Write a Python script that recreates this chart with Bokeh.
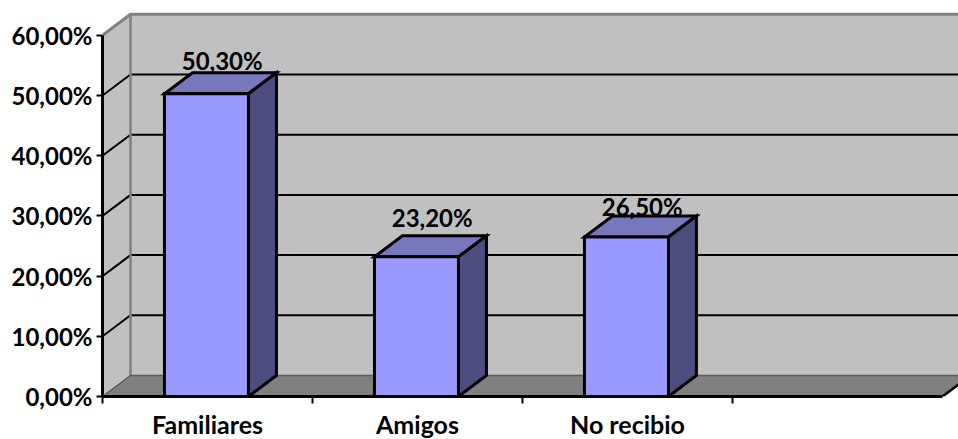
from bokeh.core.properties import value
from bokeh.embed import file_html
from bokeh.models import ColumnDataSource, FixedTicker, LinearAxis, Range1d
from bokeh.plotting import figure
from bokeh.resources import INLINE

# Chart content
categories = ["Familiares", "Amigos", "No recibio"]
shares = [50.3, 23.2, 26.5]
share_labels = ["50,30%", "23,20%", "26,50%"]
y_ticks = [0, 10, 20, 30, 40, 50, 60]
y_tick_labels = ["0,00%", "10,00%", "20,00%", "30,00%", "40,00%", "50,00%", "60,00%"]
slot_count = 4

# Pseudo-3D layout, expressed in data units
PX_PER_SLOT = 210.0
PX_PER_PCT = 6.02
DEPTH_X = 28 / PX_PER_SLOT
DEPTH_Y = 21 / PX_PER_PCT
BAR_HALF = 0.2
BAR_CENTRE = 0.495
LABEL_LIFT = [12 / PX_PER_PCT, 18 / PX_PER_PCT, 9 / PX_PER_PCT]
LABEL_SHIFT = [0.07, 0.07, 0.07]

FONT = "Lato"
WALL = "#C0C0C0"
WALL_EDGE = "#808080"
FLOOR = "#808080"
FRONT = "#9999FF"
TOP = "#7777BB"
SIDE = "#4D4D80"
INK = "#000000"

WIDTH, HEIGHT = 958, 439
LEFT, BOTTOM = 102, 43

p = figure(
    width=WIDTH,
    height=HEIGHT,
    frame_width=WIDTH - LEFT,
    frame_height=HEIGHT - BOTTOM,
    output_backend="svg",
    toolbar_location=None,
    x_axis_location=None,
    y_axis_location=None,
    x_range=Range1d(0, (WIDTH - LEFT) / PX_PER_SLOT),
    y_range=Range1d(0, (HEIGHT - BOTTOM) / PX_PER_PCT),
    min_border_left=LEFT,
    min_border_bottom=BOTTOM,
    min_border_top=0,
    min_border_right=0,
)
p.grid.visible = False
p.outline_line_color = None
p.background_fill_color = "white"
p.border_fill_color = "white"

y_top = y_ticks[-1]
far_right = (WIDTH - LEFT) / PX_PER_SLOT + 1

# Walls and floor
p.patch([DEPTH_X, far_right, far_right, DEPTH_X],
        [DEPTH_Y, DEPTH_Y, y_top + DEPTH_Y, y_top + DEPTH_Y],
        fill_color=WALL, line_color=None)
p.patch([0, DEPTH_X, DEPTH_X, 0],
        [0, DEPTH_Y, y_top + DEPTH_Y, y_top],
        fill_color=WALL, line_color=None)
p.patch([0, slot_count, slot_count + DEPTH_X, far_right, far_right, DEPTH_X],
        [0, 0, DEPTH_Y, DEPTH_Y, DEPTH_Y, DEPTH_Y],
        fill_color=FLOOR, line_color=None)

# Gridlines across the back wall and down the side wall
for tick in y_ticks[1:-1]:
    p.line([DEPTH_X, far_right], [tick + DEPTH_Y] * 2, line_color=INK, line_width=2)
    p.line([0, DEPTH_X], [tick, tick + DEPTH_Y], line_color=INK, line_width=2)

# Wall outlines
p.line([0, DEPTH_X, far_right], [y_top, y_top + DEPTH_Y, y_top + DEPTH_Y],
       line_color=WALL_EDGE, line_width=3)
p.line([DEPTH_X, DEPTH_X], [DEPTH_Y, y_top + DEPTH_Y], line_color=WALL_EDGE, line_width=2.5)
p.line([0, DEPTH_X, far_right], [0, DEPTH_Y, DEPTH_Y], line_color="#5A5A5A", line_width=1.5)
p.line([slot_count, slot_count + DEPTH_X], [0, DEPTH_Y], line_color=INK, line_width=2.5)

# Bars: top, side and front faces
for i, share in enumerate(shares):
    left = i + BAR_CENTRE - BAR_HALF
    right = i + BAR_CENTRE + BAR_HALF
    p.patch([left, right, right + DEPTH_X, left + DEPTH_X],
            [share, share, share + DEPTH_Y, share + DEPTH_Y],
            fill_color=TOP, line_color=INK, line_width=3, line_join="miter")
    p.patch([right, right + DEPTH_X, right + DEPTH_X, right],
            [0, DEPTH_Y, share + DEPTH_Y, share],
            fill_color=SIDE, line_color=INK, line_width=3, line_join="miter")
    p.quad(left=[left], right=[right], bottom=[0], top=[share],
           fill_color=FRONT, line_color=INK, line_width=3, line_join="miter")

# Value labels
labels = ColumnDataSource(data=dict(
    x=[i + 0.5 + LABEL_SHIFT[i] for i in range(len(shares))],
    y=[s + DEPTH_Y + LABEL_LIFT[i] for i, s in enumerate(shares)],
    text=share_labels,
))
p.text("x", "y", text="text", source=labels, text_font=value(FONT), text_font_style="bold",
       text_font_size="24px", text_color=INK, text_align="center", text_baseline="middle")

# Axes
y_axis = LinearAxis(
    ticker=FixedTicker(ticks=y_ticks),
    major_label_overrides={t: s for t, s in zip(y_ticks, y_tick_labels)},
    bounds=(0, y_top),
)
x_centres = [i + 0.5 for i in range(len(categories))]
x_axis = LinearAxis(
    ticker=FixedTicker(ticks=x_centres, minor_ticks=list(range(slot_count))),
    major_label_overrides={c: s for c, s in zip(x_centres, categories)},
    bounds=(0, slot_count),
)
for axis in (y_axis, x_axis):
    axis.axis_line_color = INK
    axis.axis_line_width = 3
    axis.major_label_text_font = FONT
    axis.major_label_text_font_style = "bold"
    axis.major_label_text_color = INK

y_axis.major_label_text_font_size = "24px"
y_axis.major_tick_line_width = 2
y_axis.major_tick_line_color = INK
y_axis.major_tick_out = 6
y_axis.major_tick_in = 0
y_axis.minor_tick_line_color = None
y_axis.major_label_standoff = 4

x_axis.major_label_text_font_size = "25px"
x_axis.major_tick_line_color = None
x_axis.major_tick_out = 7
x_axis.major_tick_in = 0
x_axis.minor_tick_line_color = INK
x_axis.minor_tick_line_width = 2
x_axis.minor_tick_out = 7
x_axis.minor_tick_in = 0
x_axis.major_label_standoff = 5

p.add_layout(y_axis, "left")
p.add_layout(x_axis, "below")

open("out.html", "w").write(file_html(p, INLINE))
